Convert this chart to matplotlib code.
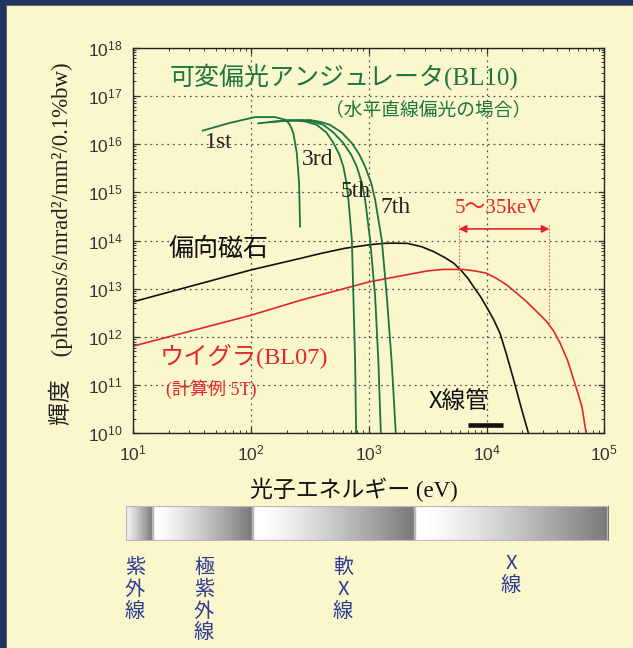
import numpy as np
import matplotlib.pyplot as plt
from matplotlib.patches import Rectangle
from matplotlib.ticker import LogLocator

# log10(photon energy / eV) and log10(brightness)
bend_x = [1.0, 1.5, 2.0, 2.42, 2.59, 2.8, 3.0, 3.12, 3.2, 3.33, 3.45, 3.55, 3.65, 3.72, 3.78, 3.84,
          3.89, 3.95, 4.0, 4.06, 4.115, 4.17, 4.23, 4.30, 4.356]
bend_y = [12.73, 13.06, 13.39, 13.63, 13.73, 13.84, 13.91, 13.94, 13.945, 13.94, 13.87, 13.77, 13.64,
          13.53, 13.39, 13.22, 13.04, 12.83, 12.62, 12.36, 12.07, 11.63, 11.11, 10.48, 10.0]

wig_x = [1.0, 2.0, 2.42, 3.0, 3.3, 3.5, 3.63, 3.80, 3.9, 4.0, 4.08, 4.17, 4.25, 4.34, 4.42, 4.51,
         4.57, 4.625, 4.69, 4.74, 4.78, 4.81, 4.846]
wig_y = [11.81, 12.45, 12.76, 13.14, 13.28, 13.37, 13.40, 13.40, 13.37, 13.32, 13.22, 13.08, 12.92,
         12.73, 12.54, 12.32, 12.12, 11.87, 11.50, 11.11, 10.80, 10.55, 10.0]

und1_x = [1.59, 1.82, 2.034, 2.204, 2.297, 2.33, 2.359, 2.388, 2.408, 2.416]
und1_y = [16.28, 16.44, 16.56, 16.56, 16.50, 16.40, 16.23, 15.82, 15.19, 14.29]
und3_x = [2.06, 2.33, 2.46, 2.558, 2.64, 2.70, 2.75, 2.784, 2.81, 2.827, 2.856, 2.869, 2.884, 2.892]
und3_y = [16.43, 16.50, 16.47, 16.40, 16.24, 16.02, 15.78, 15.53, 15.20, 14.84, 14.01, 12.83, 11.46, 10.0]
und5_x = [2.16, 2.416, 2.52, 2.614, 2.70, 2.784, 2.85, 2.898, 2.94, 2.969, 3.011, 3.054, 3.082, 3.102]
und5_y = [16.46, 16.50, 16.47, 16.40, 16.24, 16.02, 15.78, 15.53, 15.20, 14.84, 14.01, 12.83, 11.45, 10.0]
und7_x = [2.29, 2.50, 2.59, 2.67, 2.77, 2.856, 2.92, 2.969, 3.02, 3.054, 3.11, 3.153, 3.195, 3.229]
und7_y = [16.48, 16.50, 16.46, 16.40, 16.24, 16.02, 15.78, 15.53, 15.20, 14.84, 14.01, 12.83, 11.45, 10.0]
harmonics = ["1st", "3rd", "5th", "7th"]

range_keV = [5.8e3, 3.42e4]       # 5~35 keV arrow (eV)
range_top = 10**14.24
range_bottom = [10**13.15, 10**12.28]
tube_range = [7.0e3, 1.39e4]      # X-ray tube bar (eV)

bands = ["紫外線", "極紫外線", "軟X線", "X線"]
band_edges = [0.0, 0.056, 0.263, 0.599, 1.0]

BG = "#fbf7cd"
GREEN = "#1b7540"
RED = "#e5252c"
BLUE = "#2e3a93"
NAVY = "#1f3462"
SERIF = ["Liberation Serif", "Noto Sans CJK JP"]
JP = ["Noto Sans CJK JP", "Liberation Sans"]

plt.rcParams["font.family"] = ["Liberation Sans", "Noto Sans CJK JP"]

fig = plt.figure(figsize=(6.33, 6.48), dpi=100, facecolor=BG)
ax = fig.add_axes([0.2106, 0.3313, 0.7441, 0.5951])
ax.set_facecolor(BG)
ax.set_xscale("log")
ax.set_yscale("log")
ax.set_xlim(1e1, 1e5)
ax.set_ylim(1e10, 1e18)

ax.xaxis.set_major_locator(LogLocator(base=10, numticks=20))
ax.yaxis.set_major_locator(LogLocator(base=10, numticks=20))
ax.xaxis.set_minor_locator(LogLocator(base=10, subs=np.arange(2, 10), numticks=100))
ax.yaxis.set_minor_locator(LogLocator(base=10, subs=np.arange(2, 10), numticks=100))
ax.tick_params(which="both", direction="in", top=True, right=True, colors="#333333")
ax.tick_params(which="major", length=4, width=0.9, labelsize=12.5, pad=8)
ax.tick_params(which="minor", length=2.3, width=0.7)
ax.tick_params(axis="x", pad=7)
for s in ax.spines.values():
    s.set_color("#222222")
    s.set_linewidth(1.0)
ax.grid(which="major", linestyle=(0, (1.5, 3)), color="#555555", linewidth=0.9)

p = lambda a: 10 ** np.array(a)
ax.plot(p(bend_x), p(bend_y), color="#111111", lw=1.2)
ax.plot(p(wig_x), p(wig_y), color=RED, lw=1.2)
for ux, uy in [(und1_x, und1_y), (und3_x, und3_y), (und5_x, und5_y), (und7_x, und7_y)]:
    ax.plot(p(ux), p(uy), color=GREEN, lw=1.3)

# 5~35 keV range
ax.annotate("", xy=(range_keV[1], range_top), xytext=(range_keV[0], range_top),
            arrowprops=dict(arrowstyle="<|-|>", color=RED, lw=1.2, mutation_scale=11, shrinkA=0, shrinkB=0))
for e, b in zip(range_keV, range_bottom):
    ax.plot([e, e], [range_top * 1.2, b], color="#ee5a5e", lw=0.8, linestyle=(0, (1.5, 1.5)))

ax.plot(tube_range, [10**10.17] * 2, color="#111111", lw=3.3, solid_capstyle="butt")

T = ax.transAxes
ax.text(0.0779, 0.924, "可変偏光アンジュレータ(BL10)", transform=T, color=GREEN,
        fontsize=18, family=SERIF, ha="left", va="center")
ax.text(0.4068, 0.839, "（水平直線偏光の場合）", transform=T, color=GREEN,
        fontsize=13.5, family=JP, ha="left", va="center")
for lab, xx, yy in zip(harmonics, [0.152, 0.3575, 0.439, 0.524], [0.740, 0.696, 0.613, 0.571]):
    ax.text(xx, yy, lab, transform=T, fontsize=17, family="Liberation Serif",
            color="#222222", ha="left", va="baseline")
ax.text(0.0757, 0.478, "偏向磁石", transform=T, fontsize=18, family=JP,
        color="#111111", ha="left", va="center")
ax.text(0.0567, 0.198, "ウイグラ(BL07)", transform=T, fontsize=17.5, family=SERIF,
        color=RED, ha="left", va="center")
ax.text(0.0696, 0.115, "(計算例 5T)", transform=T, fontsize=13, family=SERIF,
        color=RED, ha="left", va="center")
ax.text(0.683, 0.583, "5〜35keV", transform=T, fontsize=15, family=SERIF,
        color=RED, ha="left", va="center")
ax.text(0.626, 0.0838, "X線管", transform=T, fontsize=17, family=JP,
        color="#111111", ha="left", va="center")

fig.text(61 / 633, 1 - 244 / 648, "輝度　(photons/s/mrad²/mm²/0.1%bw)", rotation=90,
         fontsize=16.5, family=SERIF, color="#222222", ha="center", va="center")
fig.text(354 / 633, 1 - 490 / 648, "光子エネルギー (eV)", fontsize=16.5, family=SERIF,
         color="#111111", ha="center", va="center")

# spectrum band bar
bx = fig.add_axes([126 / 633, 1 - 541 / 648, 482 / 633, 35 / 648])
bx.set_xlim(0, 1)
bx.set_ylim(0, 1)
bx.axis("off")
g = np.linspace(0, 1, 256)
for i in range(len(bands)):
    x0, x1 = band_edges[i], band_edges[i + 1]
    if i == 0:
        shade = 0.95 - 0.5 * g ** 1.3
    else:
        shade = 1 - 0.53 * np.clip((g - 0.05) / 0.95, 0, 1) ** 1.2
    bx.imshow(shade[None, :], cmap="gray", vmin=0, vmax=1, aspect="auto",
              extent=(x0, x1, 0, 1), interpolation="bilinear")
    bx.add_patch(Rectangle((x0, 0), x1 - x0, 1, fill=False, edgecolor="#b8b8b8", lw=1.6))

for lab, xp, yp in zip(bands, [135, 204, 343, 511], [557, 557, 557, 553]):
    fig.text(xp / 633, 1 - yp / 648, "\n".join(lab), fontsize=14.5, family=JP, color=BLUE,
             ha="center", va="top", linespacing=1.05)

# frame of the page
fig.add_artist(Rectangle((0, 1 - 5 / 648), 1, 5 / 648, transform=fig.transFigure, color=NAVY, lw=0))
fig.add_artist(Rectangle((0, 0), 6 / 633, 1, transform=fig.transFigure, color=NAVY, lw=0))
fig.add_artist(Rectangle((6 / 633, 1 - 6 / 648), 1, 1 / 648, transform=fig.transFigure, color="#6a6850", lw=0))
fig.add_artist(Rectangle((6 / 633, 0), 1 / 633, 1 - 5 / 648, transform=fig.transFigure, color="#6a6850", lw=0))

fig.savefig("out.png", dpi=100, facecolor=BG)
